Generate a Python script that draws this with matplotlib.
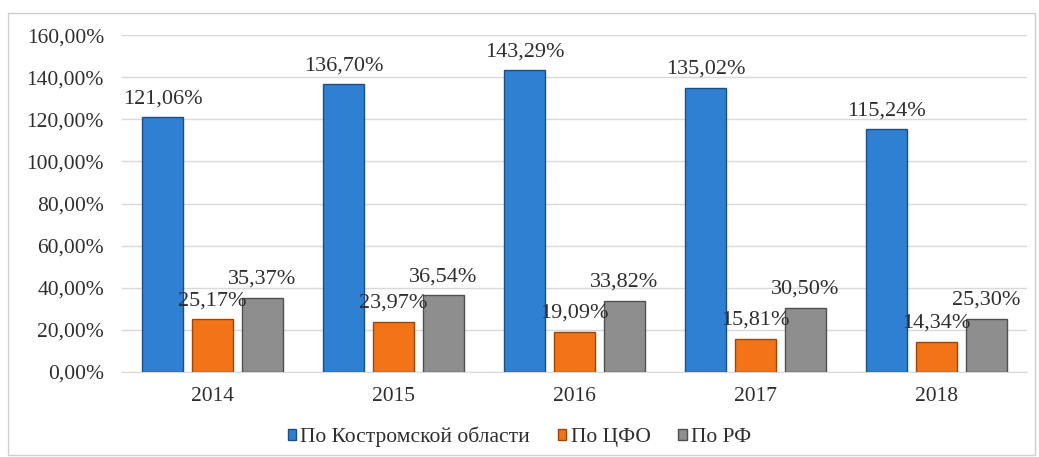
import numpy as np
import matplotlib.pyplot as plt
from matplotlib.patches import Rectangle

# %%
# data

years = ["2014", "2015", "2016", "2017", "2018"]
kostroma = [121.06, 136.70, 143.29, 135.02, 115.24]
cfo = [25.17, 23.97, 19.09, 15.81, 14.34]
rf = [35.37, 36.54, 33.82, 30.50, 25.30]

series_names = ["По Костромской области", "По ЦФО", "По РФ"]

# %%
# style

plt.rcParams['font.family'] = ['Liberation Serif', 'DejaVu Serif']
colors = ["#2f7fd3", "#f37417", "#8e8e8e"]
edge_colors = ["#1b4f85", "#9c4608", "#4f4f4f"]
text_color = "#2e2e2e"
label_size = 16
tick_size = 15.5

def pct(v):
    return ("%.2f%%" % v).replace(".", ",")

fig = plt.figure(figsize=(10.39, 4.57), dpi=100)
ax = fig.add_axes([0.1174, 0.186, 0.871, 0.737])

# outer frame of the chart
fig.patches.append(Rectangle((0.008, 0.004), 0.988, 0.968, transform=fig.transFigure,
                             fill=False, edgecolor="#d0d0d0", linewidth=1.0))

x = np.arange(len(years))
bar_w = 0.226
step = 0.276

for i, vals in enumerate([kostroma, cfo, rf]):
    pos = x + (i - 1) * step
    ax.bar(pos, vals, width=bar_w, color=colors[i], edgecolor=edge_colors[i],
           linewidth=1.0, label=series_names[i], zorder=3)
    for px, v in zip(pos, vals):
        ax.annotate(pct(v), (px, v), xytext=(0, 10), textcoords="offset points",
                    ha="center", va="baseline", fontsize=label_size, color=text_color, zorder=4)

ax.set_xlim(-0.5, len(years) - 0.5)
ax.set_ylim(0, 160)
ax.set_yticks(np.arange(0, 161, 20))
ax.set_yticklabels([pct(t) for t in np.arange(0, 161, 20)])
ax.set_xticks(x)
ax.set_xticklabels(years)
ax.tick_params(axis='y', length=0, pad=13, labelsize=tick_size, labelcolor=text_color)
ax.tick_params(axis='x', length=0, pad=11, labelsize=tick_size, labelcolor=text_color)
ax.grid(axis='y', color="#d9d9d9", linewidth=1.0, zorder=0)
for s in ["top", "right", "left"]:
    ax.spines[s].set_visible(False)
ax.spines["bottom"].set_color("#d9d9d9")

fig.legend(loc="center", bbox_to_anchor=(0.5, 0.044), ncol=3, frameon=False,
           fontsize=tick_size, handlelength=0.38, handleheight=0.38, handletextpad=0.2,
           columnspacing=1.3, labelcolor=text_color)

fig.savefig("out.png", dpi=100)
